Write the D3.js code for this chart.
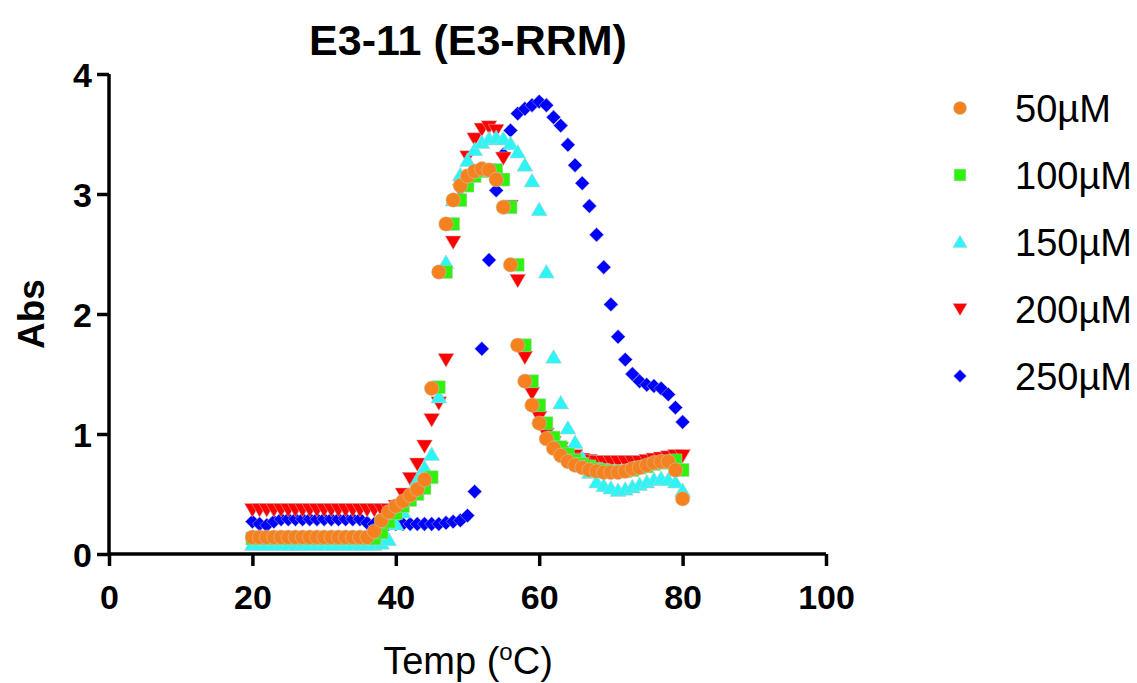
<!DOCTYPE html>
<html>
<head>
<meta charset="utf-8">
<script src="https://cdn.jsdelivr.net/npm/d3@7"></script>
<style>
  html, body { margin: 0; padding: 0; background: #fff; }
  svg { display: block; }
  text { font-family: "Liberation Sans", Arial, Helvetica, sans-serif; }
</style>
</head>
<body>
<svg id="chart" width="1137" height="683"></svg>
<script>
// ---- data ----
const temps = d3.range(20, 81); // 20..80 °C
const seriesNames = ["50µM", "100µM", "150µM", "200µM", "250µM"];
const seriesColors = ["#F5821F", "#2EF20C", "#2EF5F5", "#FF0000", "#0000FF"];
const seriesShapes = ["circle", "square", "triangle", "triangleDown", "diamond"];

const abs50 = [
  0.14,0.14,0.14,0.14,0.14,0.14,0.14,0.14,0.14,0.14,   // 20-29
  0.14,0.14,0.14,0.14,0.14,0.14,0.14,0.19,0.28,0.35,   // 30-39
  0.40,0.44,0.49,0.54,0.62,1.38,2.35,2.75,2.95,3.07,   // 40-49
  3.15,3.19,3.21,3.20,3.12,2.89,2.41,1.74,1.44,1.24,   // 50-59
  1.09,0.96,0.88,0.82,0.77,0.74,0.72,0.70,0.69,0.68,   // 60-69
  0.68,0.68,0.69,0.71,0.72,0.74,0.76,0.77,0.77,0.70,   // 70-79
  0.46                                                 // 80
];
const abs100 = [
  0.13,0.13,0.13,0.13,0.13,0.13,0.13,0.13,0.13,0.13,
  0.13,0.13,0.13,0.13,0.13,0.13,0.13,0.13,0.18,0.27,
  0.34,0.40,0.45,0.50,0.55,0.64,1.39,2.35,2.75,2.95,
  3.07,3.15,3.19,3.20,3.20,3.12,2.89,2.41,1.74,1.44,
  1.24,1.09,0.97,0.89,0.83,0.78,0.75,0.73,0.71,0.70,
  0.69,0.69,0.69,0.70,0.72,0.73,0.75,0.76,0.77,0.78,
  0.70
];
const abs150 = [
  0.08,0.08,0.08,0.08,0.08,0.08,0.08,0.08,0.08,0.08,
  0.08,0.08,0.08,0.08,0.08,0.08,0.08,0.08,0.09,0.12,
  0.25,0.35,0.50,0.62,0.72,0.83,1.31,2.43,2.95,3.16,
  3.28,3.37,3.43,3.46,3.47,3.46,3.42,3.35,3.24,3.11,
  2.87,2.35,1.64,1.26,1.05,0.93,0.80,0.68,0.60,0.57,
  0.55,0.53,0.54,0.56,0.58,0.60,0.62,0.63,0.62,0.60,
  0.53
];
const abs200 = [
  0.37,0.37,0.37,0.37,0.37,0.37,0.37,0.37,0.37,0.37,
  0.37,0.37,0.37,0.37,0.37,0.37,0.37,0.37,0.37,0.37,
  0.40,0.50,0.63,0.75,0.90,1.12,1.26,1.62,2.60,3.03,
  3.31,3.46,3.54,3.56,3.53,3.30,2.90,2.28,1.64,1.34,
  1.14,1.00,0.93,0.88,0.85,0.82,0.79,0.78,0.77,0.77,
  0.77,0.77,0.77,0.77,0.77,0.78,0.79,0.80,0.81,0.82,
  0.82
];
const abs250 = [
  0.27,0.25,0.24,0.27,0.29,0.29,0.29,0.29,0.29,0.29,
  0.29,0.29,0.29,0.29,0.29,0.29,0.26,0.25,0.25,0.25,
  0.25,0.25,0.25,0.25,0.25,0.25,0.25,0.26,0.27,0.28,
  0.32,0.52,1.71,2.45,3.03,3.33,3.53,3.67,3.71,3.74,
  3.77,3.74,3.64,3.57,3.41,3.24,3.09,2.90,2.66,2.39,
  2.08,1.81,1.62,1.50,1.44,1.41,1.40,1.38,1.33,1.22,
  1.10
];
const seriesValues = [abs50, abs100, abs150, abs200, abs250];

const xTicks = [0, 20, 40, 60, 80, 100];
const yTicks = [0, 1, 2, 3, 4];
const titleText = "E3-11 (E3-RRM)";
const yLabel = "Abs";

// ---- layout ----
const svg = d3.select("#chart");
const x = d3.scaleLinear().domain([0, 100]).range([109, 826]);
const y = d3.scaleLinear().domain([0, 4]).range([554, 74]);

// marker shapes (relative to the point centre), size k = half-extent
function shapePath(shape, k) {
  const p = d3.path();
  if (shape === "circle") {
    p.arc(0, 0, k, 0, 2 * Math.PI);
  } else if (shape === "square") {
    p.rect(-k * 0.93, -k * 0.93, k * 1.86, k * 1.86);
  } else if (shape === "triangle") {
    p.moveTo(0, -k); p.lineTo(k * 1.05, k * 0.8); p.lineTo(-k * 1.05, k * 0.8); p.closePath();
  } else if (shape === "triangleDown") {
    p.moveTo(0, k); p.lineTo(k * 1.05, -k * 0.8); p.lineTo(-k * 1.05, -k * 0.8); p.closePath();
  } else if (shape === "diamond") {
    p.moveTo(0, -k); p.lineTo(k, 0); p.lineTo(0, k); p.lineTo(-k, 0); p.closePath();
  }
  return p.toString();
}
const markerK = { circle: 7.3, square: 7, triangle: 7.6, triangleDown: 7.6, diamond: 7.2 };

// title
svg.append("text")
  .attr("x", 468).attr("y", 55)
  .attr("text-anchor", "middle")
  .attr("font-size", 43).attr("font-weight", "bold")
  .text(titleText);

// axes
const xAxis = d3.axisBottom(x).tickValues(xTicks).tickSize(12).tickPadding(19).tickFormat(d3.format("d"));
const yAxis = d3.axisLeft(y).tickValues(yTicks).tickSize(12).tickPadding(5).tickFormat(d3.format("d"));

const gx = svg.append("g").attr("transform", `translate(0,${y(0)})`).call(xAxis);
const gy = svg.append("g").attr("transform", `translate(${x(0)},0)`).call(yAxis);

[gx, gy].forEach(g => {
  g.select(".domain").attr("stroke", "#000").attr("stroke-width", 3.5);
  g.selectAll(".tick line").attr("stroke", "#000").attr("stroke-width", 3.5);
  g.selectAll(".tick text")
    .attr("fill", "#000")
    .attr("font-size", 34)
    .attr("font-weight", "bold")
    .attr("font-family", "'Liberation Sans', Arial, sans-serif");
});
gx.select(".domain").attr("d", `M${x(0)},0H${x(100)}`);
gy.select(".domain").attr("d", `M0,${y(4)}V${y(0)}`);
gx.selectAll(".tick text").attr("dy", "0.72em");
gy.selectAll(".tick text").attr("dy", "0.36em");

// axis titles
svg.append("text")
  .attr("transform", `translate(44,${(y(0) + y(4)) / 2}) rotate(-90)`)
  .attr("text-anchor", "middle")
  .attr("font-size", 37).attr("font-weight", "bold")
  .text(yLabel);

const xl = svg.append("text")
  .attr("x", 468).attr("y", 674)
  .attr("text-anchor", "middle")
  .attr("font-size", 38);
xl.append("tspan").text("Temp (");
xl.append("tspan").attr("font-size", 24).attr("dy", -14).text("o");
xl.append("tspan").attr("dy", 14).text("C)");

// points (draw last series first so 50µM is on top)
const plot = svg.append("g");
for (let s = seriesNames.length - 1; s >= 0; s--) {
  const shape = seriesShapes[s];
  const pts = temps.map((t, i) => ({ t, v: seriesValues[s][i] }));
  plot.append("g")
    .selectAll("path")
    .data(pts)
    .join("path")
    .attr("d", shapePath(shape, markerK[shape]))
    .attr("transform", d => `translate(${x(d.t)},${y(d.v)})`)
    .attr("fill", seriesColors[s])
    .attr("stroke", "#c8c8c8")
    .attr("stroke-width", 0.5);
}

// legend
const legend = svg.append("g");
seriesNames.forEach((name, i) => {
  const ly = 108 + i * 67;
  const shape = seriesShapes[i];
  legend.append("path")
    .attr("d", shapePath(shape, markerK[shape] * 0.9))
    .attr("transform", `translate(960,${ly})`)
    .attr("fill", seriesColors[i])
    .attr("stroke", "#c8c8c8")
    .attr("stroke-width", 0.5);
  legend.append("text")
    .attr("x", 1015).attr("y", ly + 14)
    .attr("font-size", 38)
    .text(name);
});
</script>
</body>
</html>
